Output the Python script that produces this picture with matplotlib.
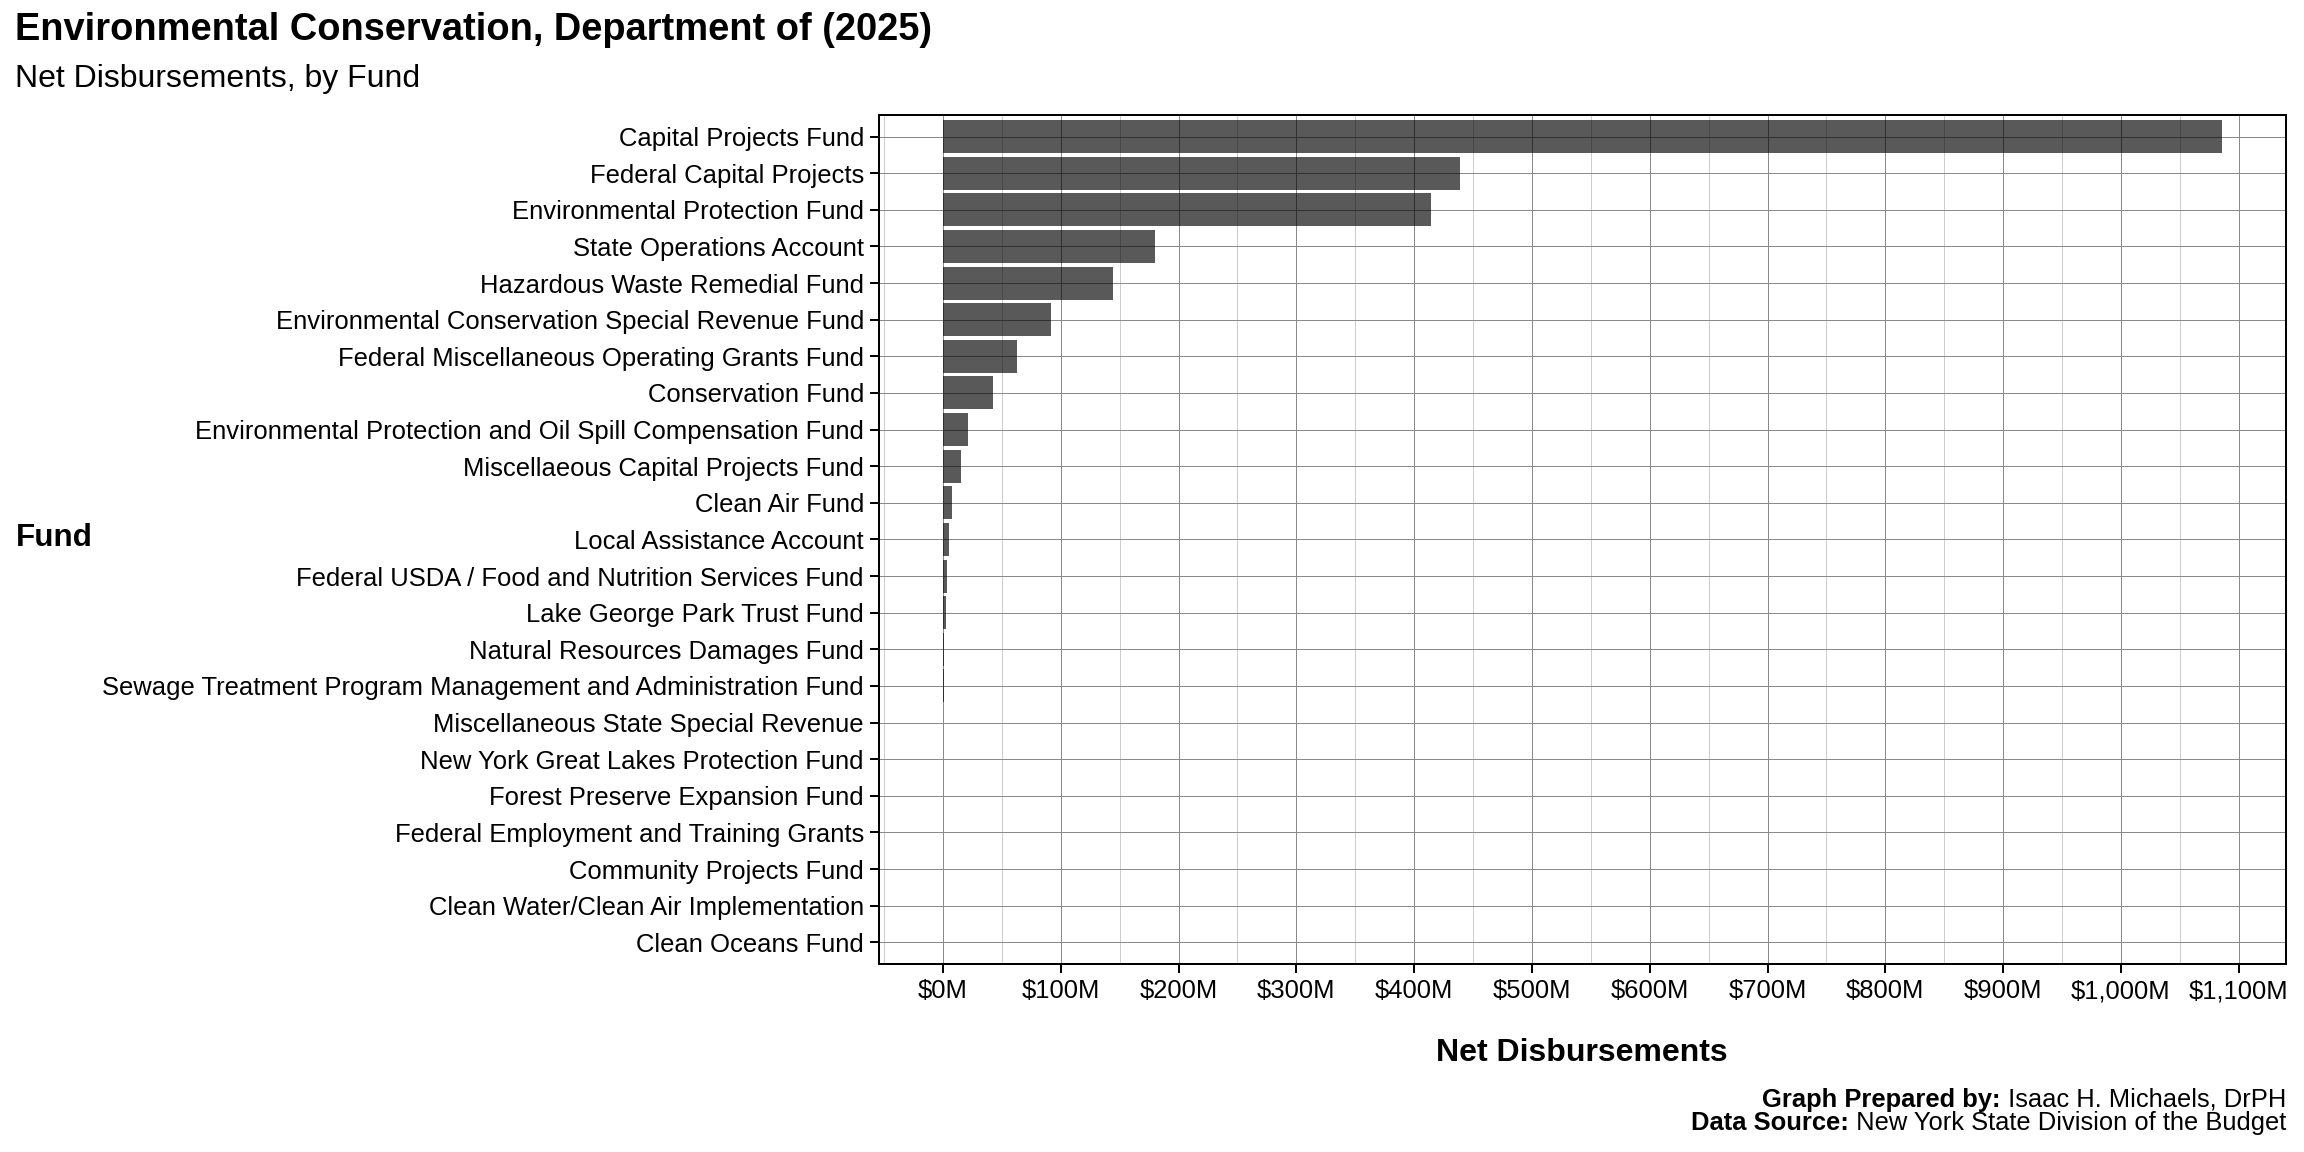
import matplotlib
matplotlib.use("Agg")
import matplotlib.pyplot as plt
from matplotlib.ticker import FuncFormatter, MultipleLocator

plt.rcParams["font.family"] = ["Liberation Sans", "DejaVu Sans"]

# Net disbursements by fund, millions of dollars
funds = [
    "Capital Projects Fund",
    "Federal Capital Projects",
    "Environmental Protection Fund",
    "State Operations Account",
    "Hazardous Waste Remedial Fund",
    "Environmental Conservation Special Revenue Fund",
    "Federal Miscellaneous Operating Grants Fund",
    "Conservation Fund",
    "Environmental Protection and Oil Spill Compensation Fund",
    "Miscellaeous Capital Projects Fund",
    "Clean Air Fund",
    "Local Assistance Account",
    "Federal USDA / Food and Nutrition Services Fund",
    "Lake George Park Trust Fund",
    "Natural Resources Damages Fund",
    "Sewage Treatment Program Management and Administration Fund",
    "Miscellaneous State Special Revenue",
    "New York Great Lakes Protection Fund",
    "Forest Preserve Expansion Fund",
    "Federal Employment and Training Grants",
    "Community Projects Fund",
    "Clean Water/Clean Air Implementation",
    "Clean Oceans Fund",
]
net_disbursements = [
    1085.5, 439.0, 414.0, 180.0, 144.0, 92.0, 62.5, 42.5, 21.4, 15.3,
    7.6, 5.1, 3.4, 2.5, 0.6, 0.5, 0.4, 0.1, 0.02, 0.01, 0.005, 0.003, 0.001,
]
x_ticks = list(range(0, 1101, 100))

title = "Environmental Conservation, Department of (2025)"
subtitle = "Net Disbursements, by Fund"


def main():
    fig = plt.figure(figsize=(16, 8), dpi=144)
    ax = fig.add_axes([0.3815, 0.163, 0.6105, 0.7375])

    ax.barh(funds, net_disbursements, height=0.9, color="black", alpha=0.65,
            linewidth=0, zorder=2)

    top = max(net_disbursements)
    ax.set_xlim(-0.05 * top, 1.05 * top)
    ax.set_ylim(len(funds) - 1 + 0.6, -0.6)

    ax.set_xticks(x_ticks)
    ax.xaxis.set_minor_locator(MultipleLocator(50))
    ax.xaxis.set_major_formatter(FuncFormatter(lambda v, _: f"${v:,.0f}M"))

    ax.grid(which="major", color="#8a8a8a", linewidth=0.5, zorder=0)
    ax.grid(which="minor", axis="x", color="#cdcdcd", linewidth=0.5, zorder=0)
    ax.set_axisbelow(True)

    for side in ax.spines.values():
        side.set_linewidth(1.0)
        side.set_color("black")
    ax.tick_params(which="major", length=4.5, width=1.0, pad=3, labelsize=12.8,
                   colors="black")
    ax.tick_params(which="minor", length=0)

    fig.text(15 / 2304, 1 - 30 / 1152, title, fontsize=19, fontweight="bold",
             va="center", ha="left")
    fig.text(15 / 2304, 1 - 79.5 / 1152, subtitle, fontsize=16,
             va="center", ha="left")
    fig.text(16 / 2304, 1 - 538 / 1152, "Fund", fontsize=15.7, fontweight="bold",
             va="center", ha="left")
    fig.text(1582 / 2304, 1 - 1053 / 1152, "Net Disbursements", fontsize=16,
             fontweight="bold", va="center", ha="center")

    # caption: bold lead-in, regular remainder, right aligned to the panel
    renderer = fig.canvas.get_renderer()
    right = 2286 / 2304
    for y_px, lead, rest in [(1100, "Graph Prepared by:", " Isaac H. Michaels, DrPH"),
                             (1123, "Data Source:", " New York State Division of the Budget")]:
        t = fig.text(right, 1 - y_px / 1152, rest, fontsize=12.75, va="center", ha="right")
        bb = t.get_window_extent(renderer)
        fig.text(bb.x0 / fig.bbox.width, 1 - y_px / 1152, lead, fontsize=12.75,
                 fontweight="bold", va="center", ha="right")

    fig.savefig("out.png", dpi=144)


if __name__ == "__main__":
    main()
